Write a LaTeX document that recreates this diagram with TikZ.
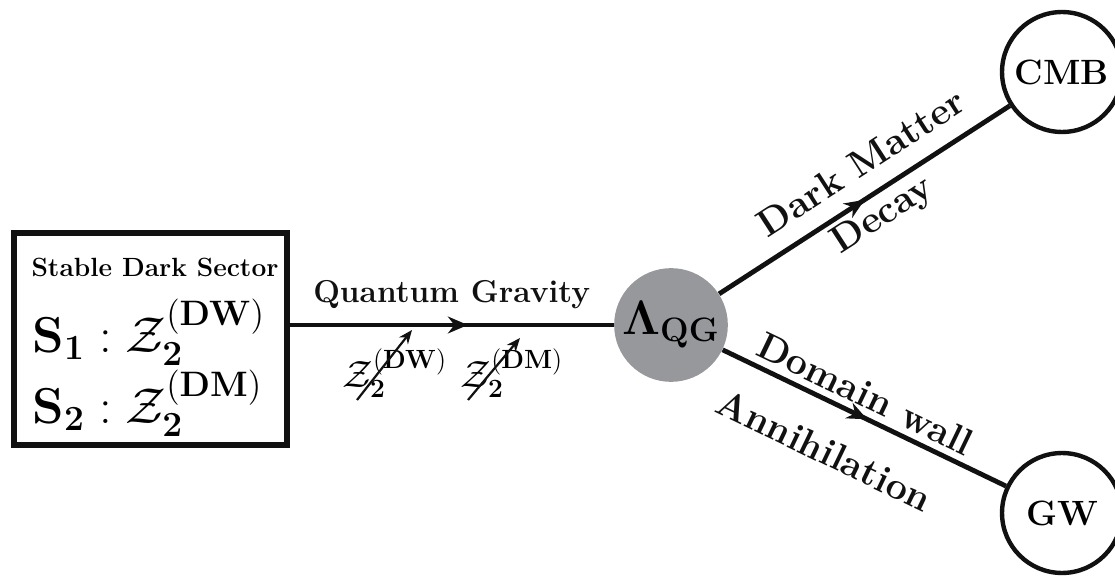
\documentclass[tikz,border=0pt]{standalone}
\usepackage{fix-cm}
\usepackage{amsmath,amssymb,bm}
\usetikzlibrary{arrows.meta,decorations.markings,positioning}
\definecolor{ink}{HTML}{111111}
\definecolor{qggray}{HTML}{97989C}
\tikzset{
  flowline/.style={line width=2.2pt,color=ink,postaction={decorate},
    decoration={markings,mark=at position #1 with {\arrow{Stealth[length=3.2mm,width=2.7mm]}}}},
  flowline/.default=0.5,
  slasharr/.style={-{Stealth[length=2.2mm,width=1.8mm]},line width=1pt,color=ink},
  sectorbox/.style={draw=ink,line width=2.4pt,minimum width=4.37cm,minimum height=3.39cm,inner sep=0pt},
  qgdisk/.style={circle,fill=qggray,minimum size=1.82cm,inner sep=0pt,font=\fontsize{22}{26}\selectfont},
  obscircle/.style={circle,draw=ink,fill=white,line width=2pt,minimum size=1.92cm,inner sep=0pt,font=\fontsize{16}{19}\selectfont\bfseries},
  lbl/.style={font=\LARGE\bfseries,inner sep=2pt}
}
\begin{document}
\begin{tikzpicture}[x=0.016cm,y=-0.016cm]
  \useasboundingbox (0,0) rectangle (1115,577);
  % stable dark sector box
  \node[sectorbox] (sector) at (150.5,339) {};
  \node[font=\large\bfseries] (title) at (155,267) {Stable Dark Sector};
  \node[anchor=base west,font=\fontsize{23}{27}\selectfont,inner sep=0pt] (s1) at (32,352)
    {$\mathbf{S_1}:\mathcal{Z}_{\mathbf{2}}^{(\mathbf{DW})}$};
  \node[anchor=base west,font=\fontsize{23}{27}\selectfont,inner sep=0pt] (s2) at (32,423)
    {$\mathbf{S_2}:\mathcal{Z}_{\mathbf{2}}^{(\mathbf{DM})}$};
  % scale and observables
  \node[qgdisk] (qg) at (671,325) {$\bm{\Lambda}_{\mathbf{QG}}$};
  \node[obscircle] (cmb) at (1062,72) {CMB};
  \node[obscircle] (gw) at (1062,513) {GW};
  % broken symmetries
  \node[font=\LARGE,inner sep=0pt] (zdw) at (395,373) {$\mathcal{Z}_{\mathbf{2}}^{(\mathbf{DW})}$};
  \node[font=\LARGE,inner sep=0pt] (zdm) at (512,373) {$\mathcal{Z}_{\mathbf{2}}^{(\mathbf{DM})}$};
  \draw[slasharr] ([shift={(-38,27)}]zdw.center) -- ([shift={(17,-43)}]zdw.center);
  \draw[slasharr] ([shift={(-44,27)}]zdm.center) -- ([shift={(8,-35)}]zdm.center);
  % flows
  \draw[flowline=0.55] (sector.east |- qg.west) -- node[above=3pt,font=\Large\bfseries] {Quantum Gravity} (qg);
  \draw[flowline=0.5] (qg) --
    node[pos=0.55,sloped,above=6pt,lbl] {Dark Matter}
    node[pos=0.52,sloped,below=0pt,lbl] {Decay} (cmb);
  \draw[flowline=0.51] (qg) --
    node[pos=0.47,sloped,above=1pt,lbl] {Domain wall}
    node[pos=0.43,sloped,below=12pt,lbl] {Annihilation} (gw);
\end{tikzpicture}
\end{document}
